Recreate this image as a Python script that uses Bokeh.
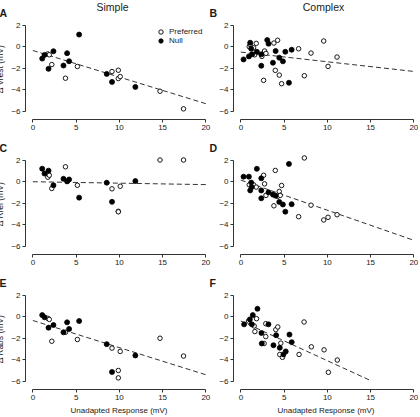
from bokeh.plotting import figure
from bokeh.models import Range1d, FixedTicker, Label, Legend, LegendItem
from bokeh.layouts import column, row
from bokeh.embed import file_html
from bokeh.resources import INLINE

FONT = "Liberation Sans"

# ---------------- data ----------------
# Simple cells (shared x = unadapted response)
simple_null_x = [1.08, 1.35, 1.81, 2.38, 3.54, 3.96, 4.19, 5.35, 8.54, 9.15, 11.85]
simple_pref_x = [1.73, 1.9, 2.19, 3.77, 5.15, 9.15, 9.88, 9.88, 10.1, 14.7, 17.42]

A_null_y = [-1.10, -0.76, -2.06, -0.42, -1.75, -0.60, -1.35, 1.13, -2.53, -3.27, -3.74]
A_pref_y = [-0.67, -0.75, -1.66, -2.93, -1.84, -2.31, -2.19, -2.96, -2.78, -4.14, -5.78]
C_null_y = [1.21, 0.76, 1.03, -0.33, 0.27, 0.03, 0.21, -1.48, -0.09, -1.87, 0.06]
C_pref_y = [0.42, 0.6, -0.63, 1.39, -0.33, -0.66, -2.75, -2.8, -0.42, 2.02, 2.02]
E_null_y = [0.15, -0.05, -1.02, -0.77, -1.45, -0.52, -1.14, -0.40, -2.55, -5.14, -3.60]
E_pref_y = [-0.15, -0.25, -2.28, -1.45, -2.12, -2.92, -5.0, -5.69, -3.23, -2.0, -3.66]

# Complex cells
B_null_x = [0.31, 0.93, 1.08, 1.2, 1.31, 1.85, 2.36, 2.36, 3.05, 3.2, 3.71, 4.02, 4.44, 4.86, 5.14, 5.56, 5.87]
B_null_y = [-1.18, -0.9, 0.37, -0.19, -0.71, -0.47, -0.71, -1.77, 0.62, 0.28, -1.49, -0.4, -1.02, -1.36, -0.47, -3.35, -0.28]
B_pref_x = [0.97, 1.08, 1.47, 1.6, 1.78, 2.43, 2.63, 2.74, 2.9, 3.82, 3.98, 4.25, 4.44, 4.71, 6.68, 7.34, 8.11, 9.58, 10.08, 11.12]
B_pref_y = [0.0, 0.2, -0.1, -0.75, 0.31, -0.9, -3.13, -0.4, -0.62, 0.34, -2.2, 0.6, -2.64, -3.44, -0.19, -2.7, -0.59, 0.53, -1.83, -0.96]

D_null_x = [0.31, 0.93, 1.08, 1.2, 1.25, 1.85, 2.36, 2.36, 2.36, 3.2, 3.71, 4.02, 4.44, 4.86, 5.14, 5.56, 5.87]
D_null_y = [0.47, 0.47, -0.81, -0.08, -0.5, 1.2, 0.32, -0.81, -1.54, -0.99, -1.2, -1.3, -1.88, -2.12, -2.79, 1.66, -2.09]
D_pref_x = [0.97, 1.47, 1.78, 2.63, 2.74, 2.9, 3.82, 3.98, 4.25, 4.44, 4.55, 4.71, 6.68, 7.34, 8.11, 9.58, 10.08, 11.12]
D_pref_y = [-0.29, -0.29, -0.5, 0.6, -0.2, -1.27, -2.24, 1.05, -1.36, -0.9, -1.27, -0.35, -3.25, 2.21, -2.18, -3.56, -3.31, -3.07]

F_null_x = [0.38, 1.04, 1.27, 1.38, 1.92, 2.38, 2.42, 3.19, 3.77, 4.08, 4.5, 4.92, 5.19, 5.62, 5.88]
F_null_y = [-0.71, -0.25, -0.71, 0.15, 0.74, -1.51, -2.49, -0.71, -2.65, -1.72, -2.89, -3.51, -3.23, -1.66, -2.37]
F_pref_x = [0.88, 1.54, 1.62, 1.81, 2.69, 2.88, 2.88, 4.04, 4.27, 4.5, 4.62, 4.81, 6.73, 7.31, 8.15, 9.62, 10.12, 11.15]
F_pref_y = [-0.4, -0.86, -1.38, -0.18, -2.49, -0.65, -1.85, -1.2, -0.95, -3.51, -2.46, -3.78, -3.51, -0.49, -2.8, -3.08, -5.17, -4.03]

# regression line end points
A_fit = ([0, 20], [-0.35, -5.3])
B_fit = ([0, 20], [-0.5, -2.3])
C_fit = ([0, 20], [0.0, -0.27])
D_fit = ([0, 20], [0.15, -5.45])
E_fit = ([0, 20], [-0.35, -5.4])
F_fit = ([0, 14.9], [-0.4, -5.9])

x_ticks = [0, 5, 10, 15, 20]
y_ticks = [-6, -4, -2, 0, 2]
col_titles = ["Simple", "Complex"]
panel_letters = [["A", "B"], ["C", "D"], ["E", "F"]]
y_labels = ["\u0394 Vrest (mV)", "\u0394 Rrel (mV)", "\u0394 Rabs (mV)"]
x_label = "Unadapted Response (mV)"
legend_labels = ["Preferred", "Null"]

XS = 8.65   # px per x unit
YS = 10.75  # px per y unit
AX = "#333333"
TXT = "#1a1a1a"
STRIP_H = 18


def strip(rowi):
    s = figure(width=420, height=STRIP_H, x_range=Range1d(0, 1), y_range=Range1d(0, 1),
               min_border=0, x_axis_type=None, y_axis_type=None,
               output_backend="svg", toolbar_location=None)
    s.outline_line_color = None
    s.grid.visible = False
    s.border_fill_color = "white"
    s.background_fill_color = "white"
    for col, lx in ((0, 7), (1, 217)):
        s.add_layout(Label(x=lx, y=5.5, x_units="screen", y_units="screen",
                           text=panel_letters[rowi][col], text_font=FONT,
                           text_font_style="bold", text_font_size="10.5px",
                           text_align="left", text_baseline="middle", text_color=TXT))
    if rowi == 0:
        for col, cx in ((0, 120), (1, 331)):
            s.add_layout(Label(x=cx, y=11.5, x_units="screen", y_units="screen",
                               text=col_titles[col], text_font=FONT, text_font_size="10.5px",
                               text_align="center", text_baseline="middle", text_color=TXT))
    return s


def panel(col, rowi, px, py, nx, ny, fit):
    left = 27 if col == 0 else 21
    fw = 187 if col == 0 else 185
    fh = 101
    bottom = 28 if rowi == 2 else 16
    x0, y0 = -0.85, -6.77
    p = figure(frame_width=fw, frame_height=fh,
               min_border_left=left, min_border_right=0,
               min_border_top=0, min_border_bottom=bottom,
               x_range=Range1d(x0, x0 + fw / XS), y_range=Range1d(y0, y0 + fh / YS),
               output_backend="svg", toolbar_location=None)
    p.outline_line_color = None
    p.grid.visible = False
    p.background_fill_color = "white"
    p.border_fill_color = "white"
    for ax, ticks, b in ((p.xaxis, x_ticks, (0, 20)), (p.yaxis, y_ticks, (-6, 2))):
        ax.ticker = FixedTicker(ticks=ticks)
        ax.bounds = b
        ax.axis_line_color = AX
        ax.axis_line_width = 1
        ax.major_tick_line_color = AX
        ax.major_tick_in = 0
        ax.major_tick_out = 3
        ax.minor_tick_line_color = None
        ax.major_label_text_font = FONT
        ax.major_label_text_font_size = "8px"
        ax.major_label_text_color = TXT
        ax.major_label_standoff = 2
        ax.axis_label_text_font = FONT
        ax.axis_label_text_font_style = "normal"
        ax.axis_label_text_color = TXT
    if col == 0:
        p.yaxis.axis_label = y_labels[rowi]
        p.yaxis.axis_label_text_font_size = "8.5px"
        p.yaxis.axis_label_standoff = 3
    if rowi == 2:
        p.xaxis.axis_label = x_label
        p.xaxis.axis_label_text_font_size = "8px"
        p.xaxis.axis_label_standoff = 3

    p.line(fit[0], fit[1], line_color="#333333", line_width=1, line_dash="5 3")
    r_pref = p.scatter(px, py, marker="circle", size=4.5, fill_color="white",
                       line_color="black", line_width=0.9)
    r_null = p.scatter(nx, ny, marker="circle", size=5, fill_color="black",
                       line_color="black", line_width=0.8)

    if col == 0 and rowi == 0:
        for lab, rend, ly in ((legend_labels[0], r_pref, 82), (legend_labels[1], r_null, 73)):
            leg = Legend(items=[LegendItem(label=lab, renderers=[rend])], location=(130, ly),
                         glyph_width=11, glyph_height=11, label_height=11, label_width=20,
                         padding=0, margin=0, spacing=0, label_standoff=3,
                         border_line_color=None, background_fill_alpha=0,
                         label_text_font=FONT, label_text_font_size="8px",
                         label_text_color=TXT)
            p.add_layout(leg)
    return p


pA = panel(0, 0, simple_pref_x, A_pref_y, simple_null_x, A_null_y, A_fit)
pB = panel(1, 0, B_pref_x, B_pref_y, B_null_x, B_null_y, B_fit)
pC = panel(0, 1, simple_pref_x, C_pref_y, simple_null_x, C_null_y, C_fit)
pD = panel(1, 1, D_pref_x, D_pref_y, D_null_x, D_null_y, D_fit)
pE = panel(0, 2, simple_pref_x, E_pref_y, simple_null_x, E_null_y, E_fit)
pF = panel(1, 2, F_pref_x, F_pref_y, F_null_x, F_null_y, F_fit)

layout = column(strip(0), row(pA, pB), strip(1), row(pC, pD), strip(2), row(pE, pF),
                margin=(0, 0, 0, -8))

open("out.html", "w").write(file_html(layout, INLINE))
